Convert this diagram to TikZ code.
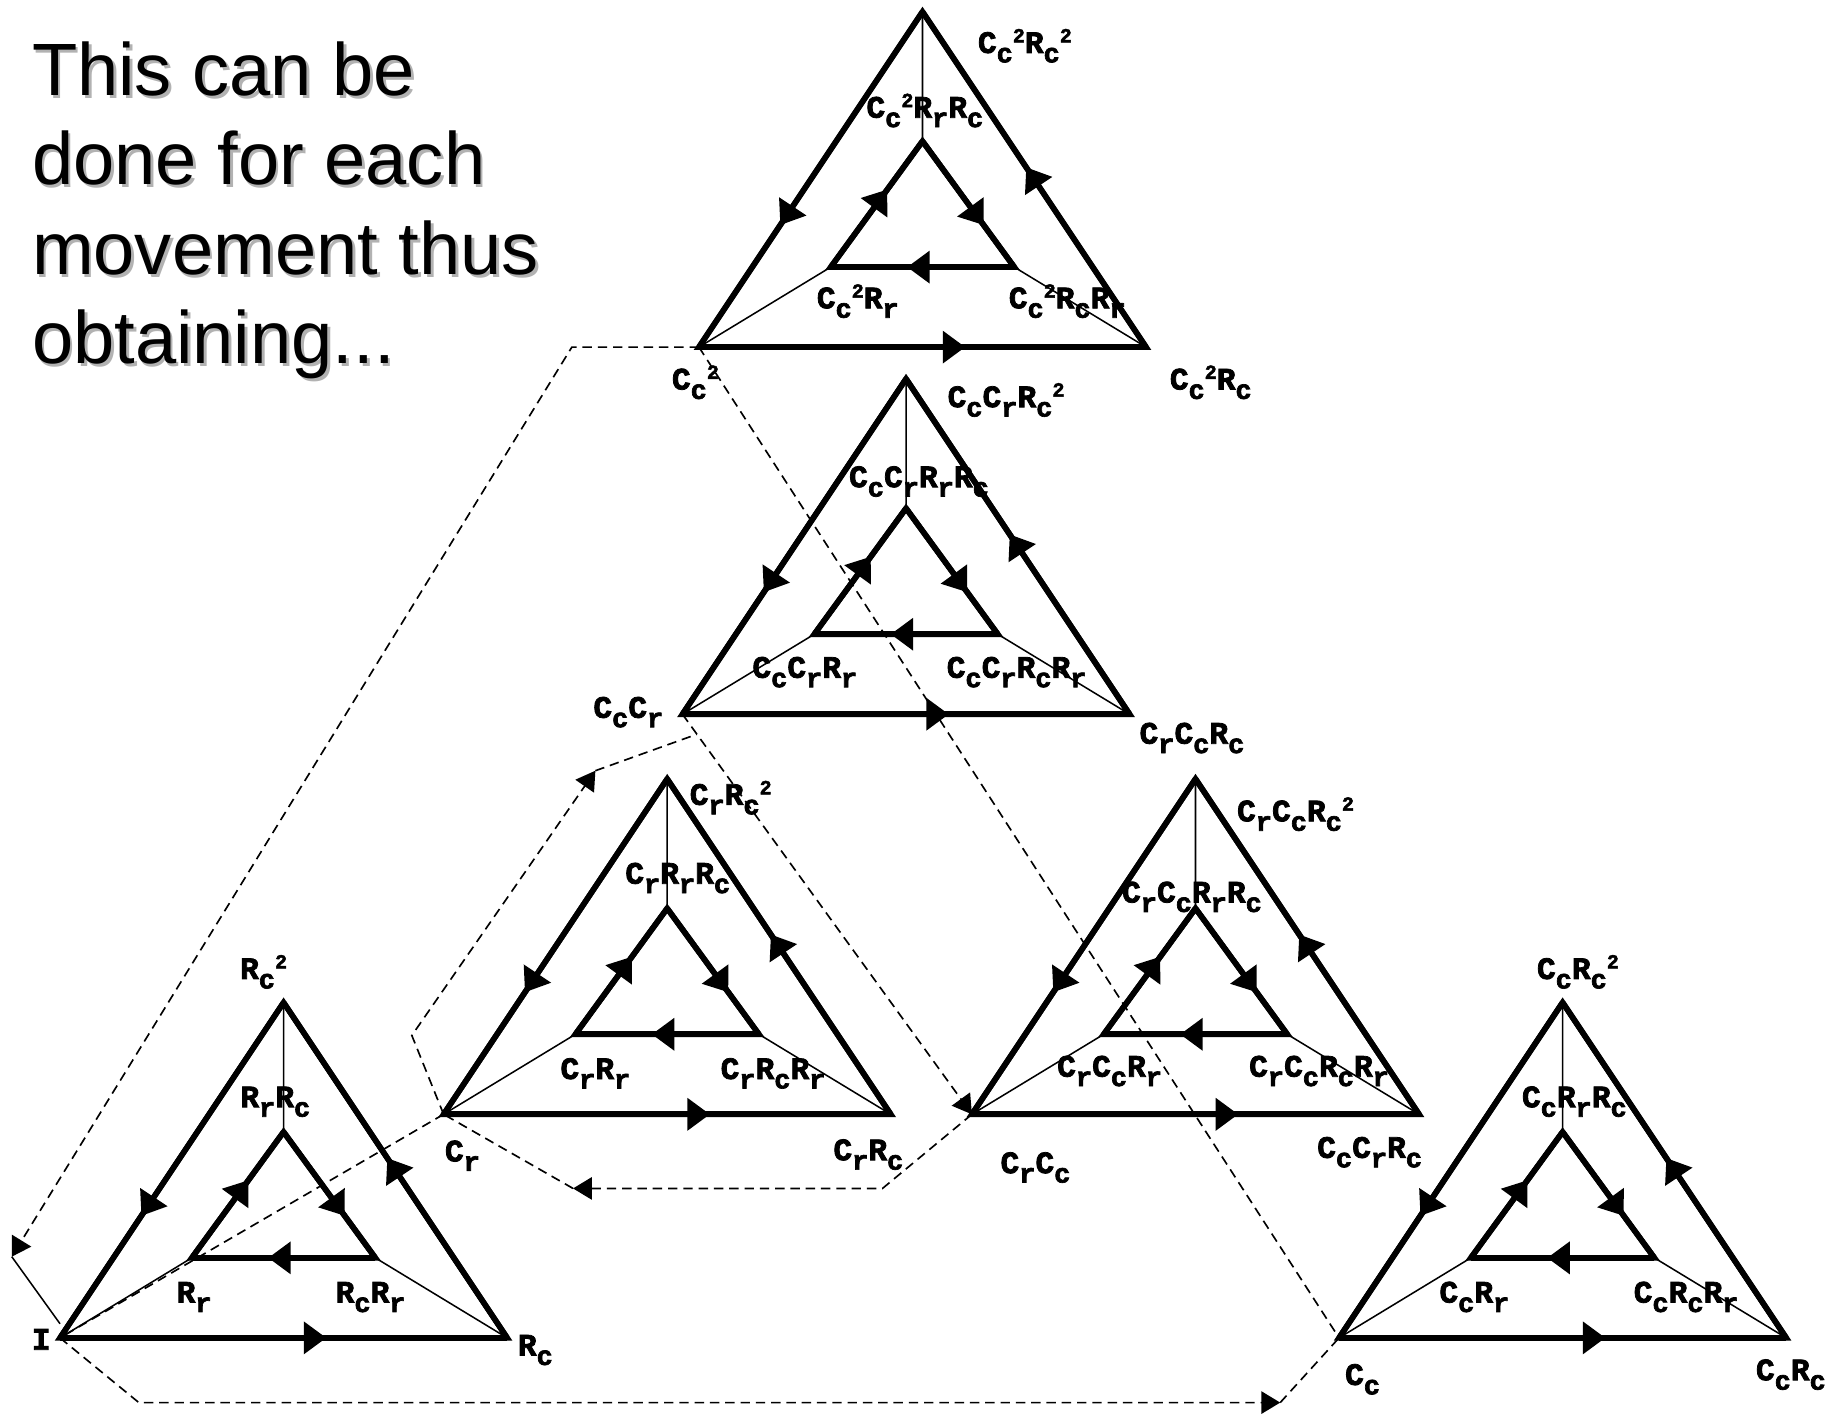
\documentclass[tikz,border=0pt]{standalone}
\usepackage{fontspec}
\setmainfont{Liberation Sans}
\newfontfamily\monof{Liberation Mono}[BoldFeatures={FakeBold=2.5}]
\usetikzlibrary{arrows.meta,decorations.markings,calc}
\newcommand\mysub[1]{\raisebox{-8pt}{\fontsize{23}{23}\selectfont #1}}
\newcommand\mysup[1]{\raisebox{9pt}{\fontsize{17}{17}\selectfont #1}}
\tikzset{
  edge/.style={line width=4.8pt,line join=miter},
  thinln/.style={line width=1.3pt},
  dashln/.style={line width=1.4pt,dash pattern=on 8pt off 5pt},
  dtip/.style={-{Triangle[length=16pt,width=19pt]}},
  mk/.style={postaction={decorate,decoration={markings,mark=at position #1 with {\fill (2,0) -- (-17,14) -- (-17,-14) -- cycle;}}}},
  lbl/.style={font=\monof\bfseries\fontsize{26.5}{26.5}\selectfont,inner sep=0pt,anchor=base},
  big/.style={font=\fontsize{63}{63}\selectfont,inner sep=0pt,anchor=base west},
}
\newcommand\tri[3]{%
  \coordinate (#1a) at (#2,#3);
  \coordinate (#1l) at ($(#1a)+(-190,285)$);
  \coordinate (#1r) at ($(#1a)+(190,285)$);
  \coordinate (#1ia) at ($(#1a)+(0,110)$);
  \coordinate (#1il) at ($(#1a)+(-78,217)$);
  \coordinate (#1ir) at ($(#1a)+(78,217)$);
  \draw[thinln] (#1a) -- (#1ia) (#1l) -- (#1il) (#1r) -- (#1ir);
  \draw[edge] (#1a) -- (#1l) -- (#1r) -- cycle;
  \draw[edge] (#1ia) -- (#1il) -- (#1ir) -- cycle;
  \draw[edge,mk=0.63] (#1a) -- (#1l);
  \draw[edge,mk=0.59] (#1l) -- (#1r);
  \draw[edge,mk=0.53] (#1r) -- (#1a);
  \draw[edge,mk=0.6] (#1il) -- (#1ia);
  \draw[edge,mk=0.65] (#1ia) -- (#1ir);
  \draw[edge,mk=0.57] (#1ir) -- (#1il);
}
\begin{document}
\begin{tikzpicture}[x=1pt,y=-1pt]
\useasboundingbox (0,0) rectangle (1568,1201);
\fill[white] (0,0) rectangle (1568,1201);

% heading text with shadow
\node[big,text=black!30] (s1) at (29.5,83.5) {This can be};
\node[big,text=black!30] (s2) at (29.5,159.5) {done for each};
\node[big,text=black!30] (s3) at (29.5,235.5) {movement thus};
\node[big,text=black!30] (s4) at (29.5,311.5) {obtaining...};
\node[big] (h1) at (27,81) {This can be};
\node[big] (h2) at (27,157) {done for each};
\node[big] (h3) at (27,233) {movement thus};
\node[big] (h4) at (27,309) {obtaining...};

% triangles
\tri{Ta}{784}{10}
\tri{Tb}{770}{322}
\tri{Tr}{567}{662}
\tri{Td}{1016}{662}
\tri{Ti}{241}{852}
\tri{Tc}{1328}{852}

% dashed connectors
\coordinate (q1) at (118,1192);
\coordinate (q2) at (1088,1192);
\coordinate (q3) at (750,1010);
\coordinate (q4) at (487,1010);
\coordinate (q5) at (350,880);
\coordinate (q6) at (506,655);
\coordinate (q7) at ($(Tbl)!0.05!(Tdl)$);
\coordinate (q8) at (486,295);
\coordinate (q9) at (10,1068);
\coordinate (q10) at ($(Til)+(0,-12)$);

\draw[dashln,dtip] (Til) -- (q1) -- (q2);
\draw[dashln] (q2) -- (Tcl);
\draw[dashln,dtip] (Tdl) -- (q3) -- (q4);
\draw[dashln] (q4) -- (Trl);
\draw[dashln,dtip] (Trl) -- (q5) -- (q6);
\draw[dashln] (q6) -- (q7);
\draw[dashln] (Tal) -- (Tcl);
\draw[dashln,dtip] (Tbl) -- (Tdl);
\draw[dashln,dtip] (Tal) -- (q8) -- (q9);
\draw[thinln] (q9) -- (q10);
\draw[dashln] (Trl) -- (Til);

% labels: top triangle
\node[lbl] (la1) at (871,45) {C\mysub{c}\mysup{2}R\mysub{c}\mysup{2}};
\node[lbl] (la2) at (786,100) {C\mysub{c}\mysup{2}R\mysub{r}R\mysub{c}};
\node[lbl] (la3) at (729,262) {C\mysub{c}\mysup{2}R\mysub{r}};
\node[lbl] (la4) at (907,262) {C\mysub{c}\mysup{2}R\mysub{c}R\mysub{r}};
\node[lbl] (la5) at (591,331) {C\mysub{c}\mysup{2}};
\node[lbl] (la6) at (1029,331) {C\mysub{c}\mysup{2}R\mysub{c}};
% CcCr triangle
\node[lbl] (lb1) at (855,346) {C\mysub{c}C\mysub{r}R\mysub{c}\mysup{2}};
\node[lbl] (lb2) at (781,414) {C\mysub{c}C\mysub{r}R\mysub{r}R\mysub{c}};
\node[lbl] (lb3) at (684,576) {C\mysub{c}C\mysub{r}R\mysub{r}};
\node[lbl] (lb4) at (864,576) {C\mysub{c}C\mysub{r}R\mysub{c}R\mysub{r}};
\node[lbl] (lb5) at (534,610) {C\mysub{c}C\mysub{r}};
\node[lbl] (lb6) at (1013,632) {C\mysub{r}C\mysub{c}R\mysub{c}};
% Cr triangle
\node[lbl] (lr1) at (621,684) {C\mysub{r}R\mysub{c}\mysup{2}};
\node[lbl] (lr2) at (576,751) {C\mysub{r}R\mysub{r}R\mysub{c}};
\node[lbl] (lr3) at (506,917) {C\mysub{r}R\mysub{r}};
\node[lbl] (lr4) at (657,917) {C\mysub{r}R\mysub{c}R\mysub{r}};
\node[lbl] (lr5) at (393,987) {C\mysub{r}};
\node[lbl] (lr6) at (738,986) {C\mysub{r}R\mysub{c}};
% CrCc triangle
\node[lbl] (ld1) at (1101,698) {C\mysub{r}C\mysub{c}R\mysub{c}\mysup{2}};
\node[lbl] (ld2) at (1013,767) {C\mysub{r}C\mysub{c}R\mysub{r}R\mysub{c}};
\node[lbl] (ld3) at (943,915) {C\mysub{r}C\mysub{c}R\mysub{r}};
\node[lbl] (ld4) at (1121,915) {C\mysub{r}C\mysub{c}R\mysub{c}R\mysub{r}};
\node[lbl] (ld5) at (880,997) {C\mysub{r}C\mysub{c}};
\node[lbl] (ld6) at (1164,984) {C\mysub{c}C\mysub{r}R\mysub{c}};
% identity triangle
\node[lbl] (li1) at (224,832) {R\mysub{c}\mysup{2}};
\node[lbl] (li2) at (234,941) {R\mysub{r}R\mysub{c}};
\node[lbl] (li3) at (165,1107) {R\mysub{r}};
\node[lbl] (li4) at (315,1107) {R\mysub{c}R\mysub{r}};
\node[lbl] (li5) at (35,1147) {I};
\node[lbl] (li6) at (455,1152) {R\mysub{c}};
% Cc triangle
\node[lbl] (lc1) at (1341,832) {C\mysub{c}R\mysub{c}\mysup{2}};
\node[lbl] (lc2) at (1338,941) {C\mysub{c}R\mysub{r}R\mysub{c}};
\node[lbl] (lc3) at (1253,1107) {C\mysub{c}R\mysub{r}};
\node[lbl] (lc4) at (1433,1107) {C\mysub{c}R\mysub{c}R\mysub{r}};
\node[lbl] (lc5) at (1158,1177) {C\mysub{c}};
\node[lbl] (lc6) at (1522,1173) {C\mysub{c}R\mysub{c}};
\end{tikzpicture}
\end{document}
